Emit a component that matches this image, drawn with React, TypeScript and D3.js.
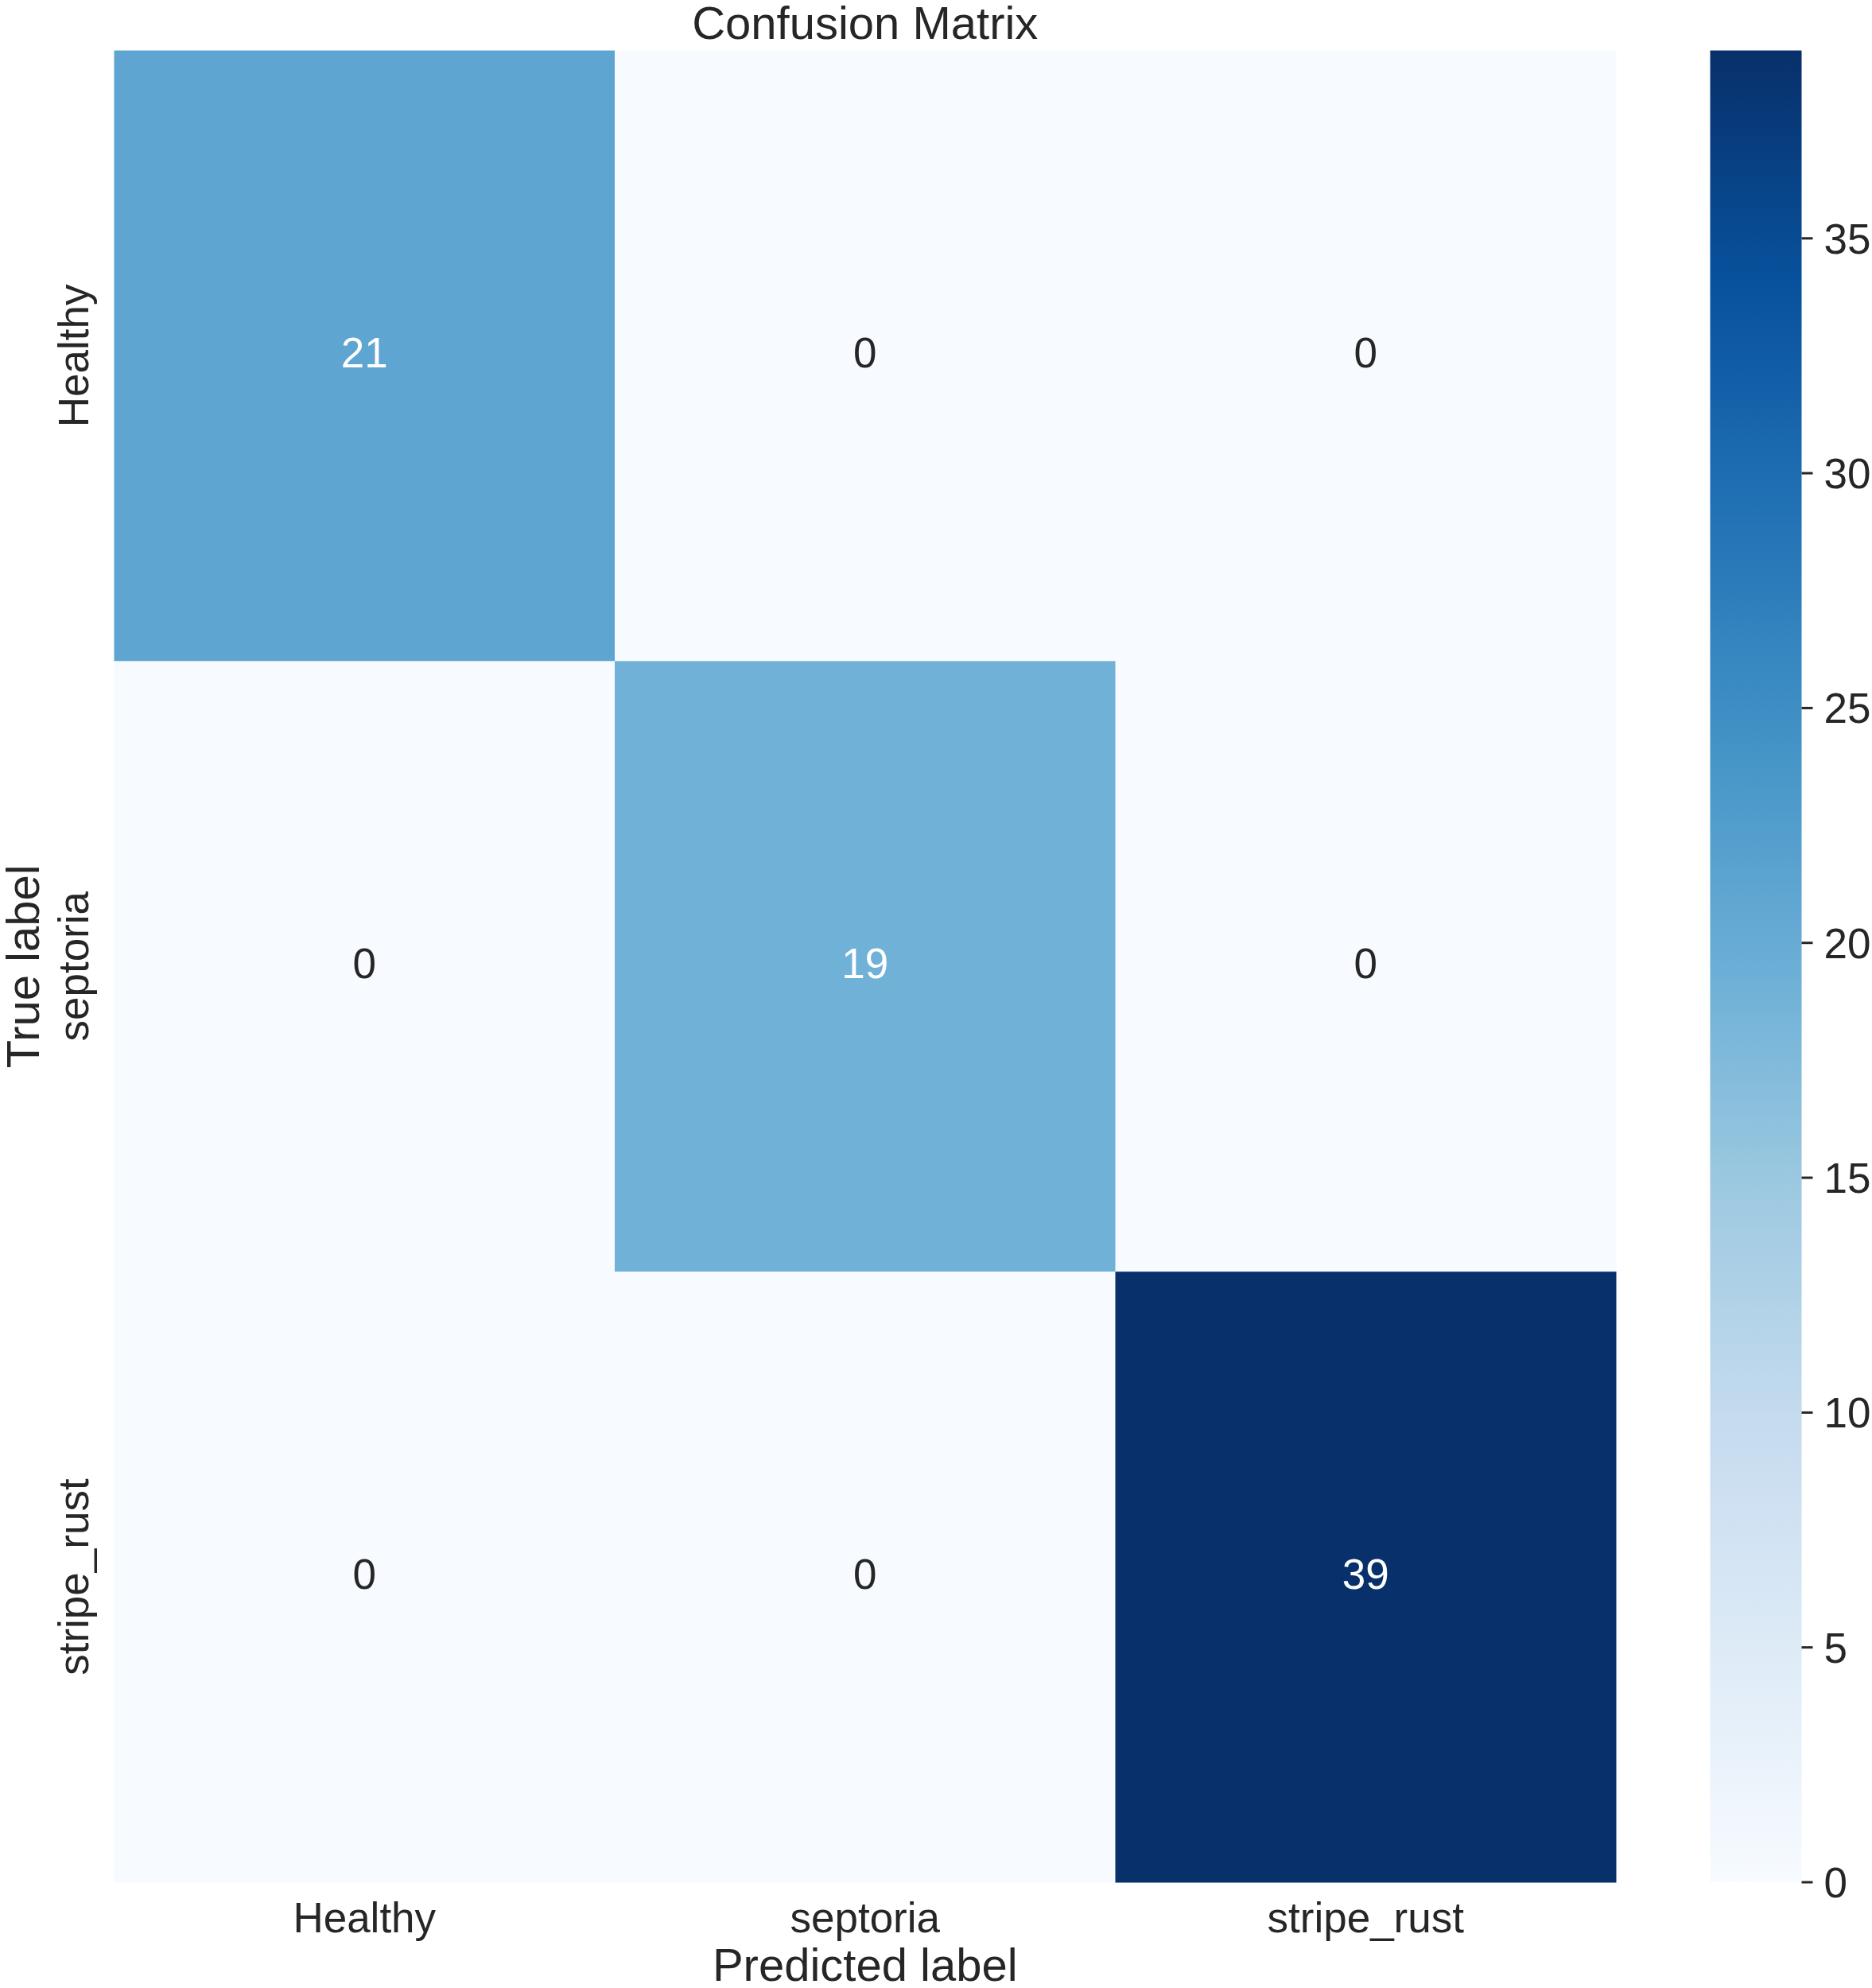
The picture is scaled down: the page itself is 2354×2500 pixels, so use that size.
import React from "react";
import * as d3 from "d3";

const classes = ["Healthy", "septoria", "stripe_rust"];
const matrix = [
  [21, 0, 0],
  [0, 19, 0],
  [0, 0, 39],
];
const colorbarTicks = [0, 5, 10, 15, 20, 25, 30, 35];
const titleText = "Confusion Matrix";
const xLabelText = "Predicted label";
const yLabelText = "True label";
const blues9 = ["#f7fbff", "#deebf7", "#c6dbef", "#9ecae1", "#6baed6", "#4292c6", "#2171b5", "#08519c", "#08306b"];

const W = 2354;
const H = 2500;
const FONT = "'Liberation Sans', Arial, Helvetica, sans-serif";
const TXT = "#262626";

export default function App() {
  const hm = { x0: 143.5, x1: 2032, y0: 63.5, y1: 2367 };
  const cb = { x0: 2150.5, x1: 2265.5 };

  const x = d3.scaleBand<string>().domain(classes).range([hm.x0, hm.x1]).padding(0);
  const y = d3.scaleBand<string>().domain(classes).range([hm.y0, hm.y1]).padding(0);

  const vmax = d3.max(matrix.flat()) as number;
  const vmin = 0;
  const cmap = d3
    .scaleLinear<string>()
    .domain(d3.range(blues9.length).map((i) => i / (blues9.length - 1)))
    .range(blues9)
    .interpolate(d3.interpolateRgb);
  const color = (v: number) => cmap((v - vmin) / (vmax - vmin));

  const cbScale = d3.scaleLinear().domain([vmin, vmax]).range([hm.y1, hm.y0]);

  const lum = (c: string) => {
    const rgb = d3.rgb(c);
    const f = (u: number) => {
      const s = u / 255;
      return s <= 0.03928 ? s / 12.92 : Math.pow((s + 0.055) / 1.055, 2.4);
    };
    return 0.2126 * f(rgb.r) + 0.7152 * f(rgb.g) + 0.0722 * f(rgb.b);
  };

  const gradStops = d3.range(0, 1.0001, 1 / 64);

  return (
    <svg
      width={W}
      height={H}
      viewBox={`0 0 ${W} ${H}`}
      style={{ position: "absolute", left: 0, top: 0, background: "#ffffff" }}
    >
      <defs>
        <linearGradient id="cbgrad" x1="0" y1="1" x2="0" y2="0">
          {gradStops.map((t, i) => (
            <stop key={i} offset={t} stopColor={cmap(t)} />
          ))}
        </linearGradient>
      </defs>
      <rect x={0} y={0} width={W} height={H} fill="#ffffff" />

      {/* cells */}
      {matrix.map((row, i) =>
        row.map((v, j) => (
          <rect
            key={`c${i}-${j}`}
            x={x(classes[j])}
            y={y(classes[i])}
            width={x.bandwidth() + 0.5}
            height={y.bandwidth() + 0.5}
            fill={color(v)}
          />
        ))
      )}

      {/* annotations */}
      {matrix.map((row, i) =>
        row.map((v, j) => {
          const c = color(v);
          const tc = lum(c) > 0.408 ? TXT : "#ffffff";
          return (
            <text
              key={`t${i}-${j}`}
              x={(x(classes[j]) as number) + x.bandwidth() / 2}
              y={(y(classes[i]) as number) + y.bandwidth() / 2 + 15}
              textAnchor="middle"
              fontFamily={FONT}
              fontSize={53}
              fill={tc}
            >
              {v}
            </text>
          );
        })
      )}

      {/* x tick labels */}
      {classes.map((c) => (
        <text
          key={`xt-${c}`}
          x={(x(c) as number) + x.bandwidth() / 2}
          y={2430}
          textAnchor="middle"
          fontFamily={FONT}
          fontSize={53}
          fill={TXT}
        >
          {c}
        </text>
      ))}

      {/* y tick labels */}
      {classes.map((c) => {
        const cy = (y(c) as number) + y.bandwidth() / 2;
        return (
          <text
            key={`yt-${c}`}
            transform={`translate(111,${cy}) rotate(-90)`}
            textAnchor="middle"
            fontFamily={FONT}
            fontSize={53}
            fill={TXT}
          >
            {c}
          </text>
        );
      })}

      {/* axis labels */}
      <text x={(hm.x0 + hm.x1) / 2} y={2491} textAnchor="middle" fontFamily={FONT} fontSize={58} fill={TXT}>
        {xLabelText}
      </text>
      <text
        transform={`translate(49,${(hm.y0 + hm.y1) / 2}) rotate(-90)`}
        textAnchor="middle"
        fontFamily={FONT}
        fontSize={58}
        fill={TXT}
      >
        {yLabelText}
      </text>

      {/* title */}
      <text x={(hm.x0 + hm.x1) / 2} y={49} textAnchor="middle" fontFamily={FONT} fontSize={58} fill={TXT}>
        {titleText}
      </text>

      {/* colorbar */}
      <rect x={cb.x0} y={hm.y0} width={cb.x1 - cb.x0} height={hm.y1 - hm.y0} fill="url(#cbgrad)" />
      {colorbarTicks.map((t) => (
        <g key={`cbt-${t}`}>
          <line x1={cb.x1} x2={cb.x1 + 14} y1={cbScale(t)} y2={cbScale(t)} stroke={TXT} strokeWidth={3} />
          <text
            x={cb.x1 + 28}
            y={cbScale(t)}
            dy="0.36em"
            fontFamily={FONT}
            fontSize={53}
            fill={TXT}
          >
            {t}
          </text>
        </g>
      ))}
    </svg>
  );
}
